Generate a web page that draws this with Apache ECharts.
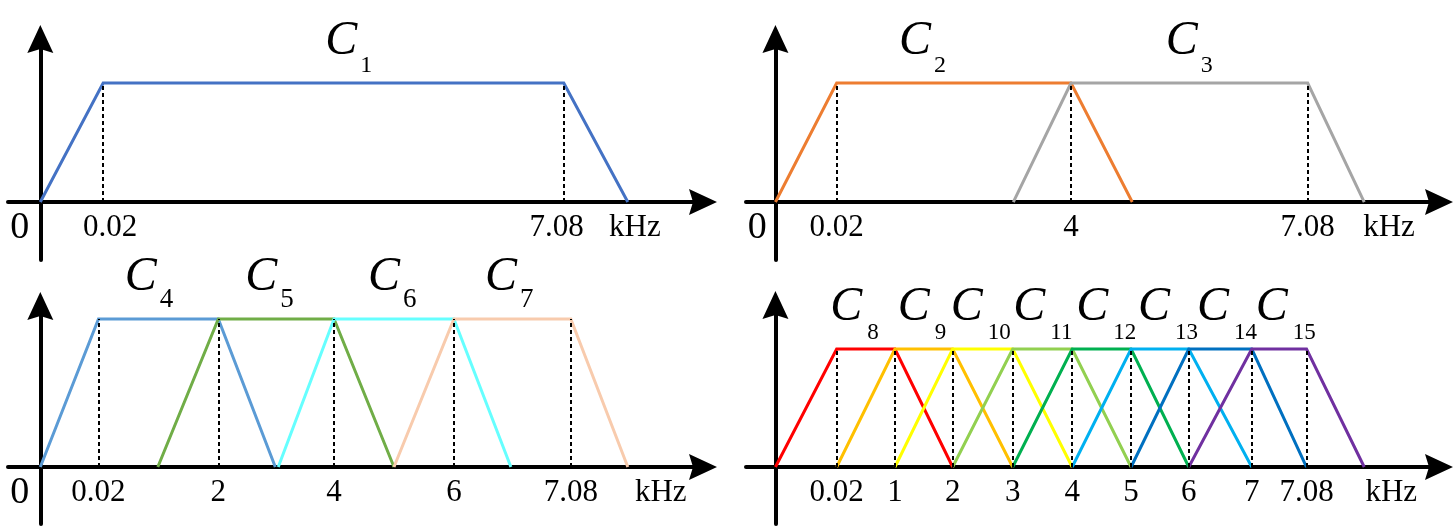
<!DOCTYPE html>
<html><head><meta charset="utf-8">
<script src="https://cdn.jsdelivr.net/npm/echarts@6/dist/echarts.min.js"></script>
<style>html,body{margin:0;padding:0;background:#fff}#c{width:1456px;height:528px}</style>
</head><body><div id="c"></div>
<script>
// ---------------- data (schematic x positions of band edges; y: 0 stop, 1 pass) ----------------
const level = [0, 1, 1, 0];

// panel 1
const ticks1 = [1.07, 8.91];
const tickLabels1 = ['0.02', '7.08'];
const C1 = [0, 1.07, 8.91, 10];

// panel 2
const ticks2 = [1.04, 5.02, 9.04];
const tickLabels2 = ['0.02', '4', '7.08'];
const C2 = [0, 1.04, 5.02, 6.06];
const C3 = [4.04, 5.02, 9.04, 10];

// panel 3
const ticks3 = [0.99, 3.03, 5.0, 7.04, 9.03];
const tickLabels3 = ['0.02', '2', '4', '6', '7.08'];
const C4 = [0, 0.99, 3.03, 4.0];
const C5 = [2.0, 3.03, 5.0, 6.02];
const C6 = [4.05, 5.0, 7.04, 8.01];
const C7 = [6.02, 7.04, 9.03, 10];

// panel 4
const ticks4 = [1.04, 2.03, 3.01, 4.03, 5.04, 6.04, 7.02, 8.09, 9.02];
const tickLabels4 = ['0.02', '1', '2', '3', '4', '5', '6', '7', '7.08'];
const C8 = [0, 1.04, 2.03, 3.01];
const C9 = [1.04, 2.03, 3.01, 4.03];
const C10 = [2.03, 3.01, 4.03, 5.04];
const C11 = [3.01, 4.03, 5.04, 6.04];
const C12 = [4.03, 5.04, 6.04, 7.02];
const C13 = [5.04, 6.04, 7.02, 8.09];
const C14 = [6.04, 7.02, 8.09, 9.02];
const C15 = [7.02, 8.09, 9.02, 10];

const unitText = 'kHz';
const originText = '0';

// ---------------- layout / style ----------------
const panels = [
  { grid: {left: 8, top: 39, width: 695, height: 221}, x: [-0.55, 11.28], y: [-0.487, 1.37],
    chans: [C1], names: ['1'], colors: ['#4472C4'],
    ticks: ticks1, tickText: tickLabels1, tickLabelPos: [1.19, 8.79],
    zeroPos: -0.35, unitPos: 10.12, cPos: [4.90], subFont: 24, subPad: 37, subGap: 3 },
  { grid: {left: 746, top: 39, width: 693, height: 221}, x: [-0.5, 11.27], y: [-0.487, 1.37],
    chans: [C2, C3], names: ['2', '3'], colors: ['#ED7D31', '#A5A5A5'],
    ticks: ticks2, tickText: tickLabels2, tickLabelPos: ticks2,
    zeroPos: -0.31, unitPos: 10.42, cPos: [2.15, 6.68], subFont: 24, subPad: 37, subGap: 3 },
  { grid: {left: 8, top: 306, width: 695, height: 218}, x: [-0.55, 11.28], y: [-0.385, 1.088],
    chans: [C4, C5, C6, C7], names: ['4', '5', '6', '7'], colors: ['#5B9BD5', '#70AD47', '#66FFFF', '#F8CBAD'],
    ticks: ticks3, tickText: tickLabels3, tickLabelPos: ticks3,
    zeroPos: -0.35, unitPos: 10.56, cPos: [1.49, 3.54, 5.63, 7.62], subFont: 27, subPad: 33, subGap: 3 },
  { grid: {left: 746, top: 305, width: 693, height: 219}, x: [-0.5, 11.27], y: [-0.483, 1.373],
    chans: [C8, C9, C10, C11, C12, C13, C14, C15],
    names: ['8', '9', '10', '11', '12', '13', '14', '15'],
    colors: ['#FF0000', '#FFC000', '#FFFF00', '#92D050', '#00B050', '#00B0F0', '#0070C0', '#7030A0'],
    ticks: ticks4, tickText: tickLabels4, tickLabelPos: ticks4,
    zeroPos: null, unitPos: 10.46, cPos: [0.98, 2.13, 3.03, 4.09, 5.16, 6.21, 7.21, 8.21], subFont: 23, subPad: 38, subGap: 5 }
];

const FONT = 'Liberation Serif';
const arrowPath = 'path://M13,0 L26,28 L13,24 L0,28 Z';

const grids = [], xAxes = [], yAxes = [], series = [];
panels.forEach((p, i) => {
  grids.push(Object.assign({containLabel: false, outerBoundsMode: 'none'}, p.grid));
  // distance (px) from grid bottom up to the zero line, so labels hang under the zero line
  const below = p.grid.height * (0 - p.y[0]) / (p.y[1] - p.y[0]);
  const vals = [], texts = [];
  if (p.zeroPos !== null) { vals.push(p.zeroPos); texts.push('{z|' + originText + '}'); }
  p.tickLabelPos.forEach((v, k) => { vals.push(v); texts.push(p.tickText[k]); });
  vals.push(p.unitPos); texts.push(unitText);
  xAxes.push({
    gridIndex: i, type: 'value', min: p.x[0], max: p.x[1],
    axisLine: {show: true, onZero: true, symbol: ['none', arrowPath], symbolSize: [26, 28],
      lineStyle: {color: '#000', width: 4}},
    axisTick: {show: false}, splitLine: {show: false},
    axisLabel: {
      show: true, customValues: vals, margin: 10 - below, color: '#000', fontFamily: FONT, fontSize: 31,
      formatter: function (v) {
        let best = 0;
        vals.forEach((u, k) => { if (Math.abs(u - v) < Math.abs(vals[best] - v)) best = k; });
        return texts[best];
      },
      rich: {z: {fontFamily: FONT, fontSize: 38, lineHeight: 32, color: '#000'}}
    }
  });
  yAxes.push({
    gridIndex: i, type: 'value', min: p.y[0], max: p.y[1],
    axisLine: {show: true, onZero: true, symbol: ['none', arrowPath], symbolSize: [26, 28],
      lineStyle: {color: '#000', width: 4}},
    axisTick: {show: false}, splitLine: {show: false}, axisLabel: {show: false}
  });
  // channel trapezoids
  p.chans.forEach((xs, k) => {
    series.push({
      type: 'line', xAxisIndex: i, yAxisIndex: i, silent: true, animation: false,
      data: xs.map((x, j) => [x, level[j]]), symbol: 'none', showSymbol: false,
      lineStyle: {color: p.colors[k], width: 3, join: 'miter'}, itemStyle: {color: p.colors[k]}, z: 3
    });
  });
  // dashed guides
  series.push({
    type: 'lines', coordinateSystem: 'cartesian2d', xAxisIndex: i, yAxisIndex: i, silent: true, animation: false,
    polyline: false,
    data: p.ticks.map(t => ({coords: [[t, 0], [t, 1]]})),
    lineStyle: {color: '#000', width: 2, type: [4, 3], opacity: 1}, z: 4
  });
  // channel names
  series.push({
    type: 'scatter', xAxisIndex: i, yAxisIndex: i, silent: true, animation: false,
    symbolSize: 0, itemStyle: {color: 'rgba(0,0,0,0)'},
    data: p.cPos.map((x, k) => ({value: [x, 1], name: p.names[k]})),
    label: {
      show: true, position: [-3, -66], color: '#000', opacity: 1,
      formatter: q => '{c|C}{s|' + q.name + '}',
      rich: {
        c: {fontFamily: FONT, fontStyle: 'italic', fontSize: 48, lineHeight: 48, color: '#000', verticalAlign: 'top'},
        s: {fontFamily: FONT, fontSize: p.subFont, lineHeight: p.subFont, color: '#000', verticalAlign: 'top',
            padding: [p.subPad, 0, 0, p.subGap]}
      }
    },
    z: 5
  });
});

const chart = echarts.init(document.getElementById('c'), null, {renderer: 'canvas'});
chart.setOption({
  animation: false, backgroundColor: '#fff',
  grid: grids, xAxis: xAxes, yAxis: yAxes, series: series
});
</script></body></html>
